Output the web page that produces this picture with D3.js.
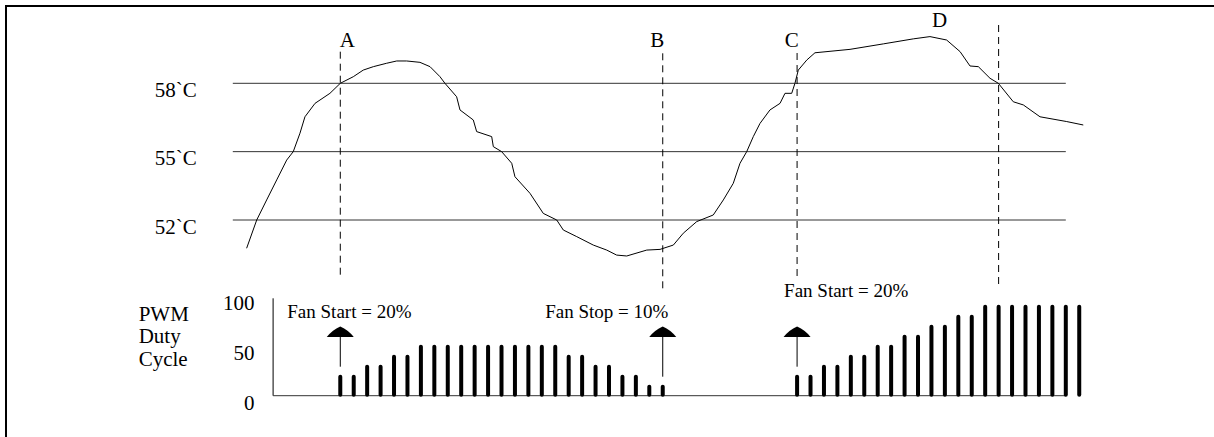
<!DOCTYPE html>
<html>
<head>
<meta charset="utf-8">
<script src="https://cdn.jsdelivr.net/npm/d3@7"></script>
<style>
  html, body { margin: 0; padding: 0; background: #fff; }
  svg { display: block; }
  text { font-family: "Liberation Serif", "Times New Roman", serif; fill: #000; }
</style>
</head>
<body>
<div id="chart"></div>
<script>
// ---------- data ----------
// temperature trace (time in PWM periods, temperature in degC)
var tempTime = [-6.97, -6.22, -5.48, -4.73, -3.99, -3.5, -3.0, -2.63, -1.88, -0.77, 0, 0.97, 1.71, 2.46, 3.45, 4.2, 4.94,
  5.93, 6.68, 7.42, 7.79, 8.66, 8.91, 9.9, 10.15, 11.27, 11.39, 12.01, 12.76, 13.0, 14.12, 15.11, 16.11, 16.6, 17.6,
  18.83, 19.83, 20.57, 21.32, 22.81, 23.8, 24.79, 25.53, 26.53, 27.76, 28.51, 29.25, 29.75, 30.25, 30.74, 31.24,
  31.98, 32.73, 33.1, 33.6, 33.84, 34.09, 34.72, 35.33, 37.94, 40.42, 42.65, 43.89, 45.13, 46.13, 46.87, 47.49,
  48.36, 48.98, 50.09, 50.84, 52.08, 54.07, 55.3];
var tempValue = [50.76, 52.0, 52.88, 53.76, 54.63, 55.0, 55.81, 56.53, 57.12, 57.56, 58.0, 58.29, 58.58, 58.73, 58.88, 58.98, 58.98,
  58.92, 58.73, 58.29, 58.0, 57.41, 56.83, 56.39, 55.88, 55.66, 55.22, 55.0, 54.49, 53.9, 53.17, 52.29, 52.0, 51.56, 51.27,
  50.9, 50.68, 50.46, 50.42, 50.68, 50.71, 50.9, 51.42, 51.93, 52.22, 52.88, 53.61, 54.49, 55.0, 55.66, 56.24,
  56.83, 57.12, 57.56, 57.56, 58.0, 58.58, 59.02, 59.34, 59.49, 59.73, 59.95, 60.05, 59.9, 59.39, 58.76, 58.73,
  58.22, 58.0, 57.19, 57.05, 56.53, 56.32, 56.17];

var tempLevels = [52, 55, 58];
var tempLabels = ["52`C", "55`C", "58`C"];

// PWM duty cycle bursts (one value per PWM period)
var dutyStart = [0, 34];
var dutyGroups = [
  [20, 20, 30, 30, 40, 40, 50, 50, 50, 50, 50, 50, 50, 50, 50, 50, 50, 40, 40, 30, 30, 20, 20, 10, 10],
  [20, 20, 30, 30, 40, 40, 50, 50, 60, 60, 70, 70, 80, 80, 90, 90, 90, 90, 90, 90, 90, 90]
];
var dutyTicks = [0, 50, 100];
var dutyAxisTitle = ["PWM", "Duty", "Cycle"];

// event markers
var markerTime = [0, 24, 34, 49];
var markerLetters = ["A", "B", "C", "D"];
var letterTime = [0, 24, 34, 44.6];

// fan events (arrows)
var fanTime = [0, 24, 34];
var fanLabels = ["Fan Start = 20%", "Fan Stop = 10%", "Fan Start = 20%"];

// ---------- layout ----------
var attrs = {
  width: 1214,
  height: 437,
  fontSize: 21,
  noteSize: 19
};

var svg = d3.select("#chart").append("svg")
  .attr("width", attrs.width)
  .attr("height", attrs.height);

var x = d3.scaleLinear().domain([-8, 54]).range([232.8, 1065.8]);
var yT = d3.scaleLinear().domain([52, 58]).range([220, 83.3]);
var yD = d3.scaleLinear().domain([0, 100]).range([395.7, 295.7]);

// frame (top and left edges)
svg.append("line").attr("x1", 5).attr("x2", attrs.width).attr("y1", 6).attr("y2", 6)
  .attr("stroke", "#000").attr("stroke-width", 2);
svg.append("line").attr("x1", 6).attr("x2", 6).attr("y1", 5).attr("y2", attrs.height)
  .attr("stroke", "#000").attr("stroke-width", 2);

// temperature thresholds
svg.selectAll(".level").data(tempLevels).enter().append("line")
  .attr("class", "level")
  .attr("x1", x(-8)).attr("x2", x(54))
  .attr("y1", d => yT(d)).attr("y2", d => yT(d))
  .attr("stroke", "#333").attr("stroke-width", 1);

svg.selectAll(".level-label").data(tempLevels).enter().append("text")
  .attr("class", "level-label")
  .attr("x", x(-8) - 36)
  .attr("y", d => yT(d) + 13.5)
  .attr("text-anchor", "end")
  .attr("font-size", attrs.fontSize)
  .text((d, i) => tempLabels[i]);

// dashed markers
var markerTop = [51.7, 53.3, 53, 25];
var markerBottom = [276.7, 288.3, 276.7, 286.7];
svg.selectAll(".marker").data(markerTime).enter().append("line")
  .attr("class", "marker")
  .attr("x1", d => x(d)).attr("x2", d => x(d))
  .attr("y1", (d, i) => markerTop[i]).attr("y2", (d, i) => markerBottom[i])
  .attr("stroke", "#000").attr("stroke-width", 1)
  .attr("stroke-dasharray", "7,5");

var letterAnchor = ["start", "end", "end", "middle"];
var letterDx = [-0.5, 1.5, 1.7, 0];
var letterY = [46.7, 46.7, 46.7, 26.7];
svg.selectAll(".letter").data(letterTime).enter().append("text")
  .attr("class", "letter")
  .attr("x", (d, i) => x(d) + letterDx[i])
  .attr("y", (d, i) => letterY[i])
  .attr("text-anchor", (d, i) => letterAnchor[i])
  .attr("font-size", attrs.fontSize)
  .text((d, i) => markerLetters[i]);

// temperature curve
var tempData = tempTime.map((t, i) => ({ t: t, v: tempValue[i] }));
svg.append("path")
  .datum(tempData)
  .attr("fill", "none")
  .attr("stroke", "#000")
  .attr("stroke-width", 1)
  .attr("stroke-linejoin", "round")
  .attr("d", d3.line().x(d => x(d.t)).y(d => yT(d.v)));

// duty cycle axis
svg.append("line")
  .attr("x1", x(-5)).attr("x2", x(-5))
  .attr("y1", yD(97.4)).attr("y2", yD(0))
  .attr("stroke", "#000").attr("stroke-width", 1);
svg.append("line")
  .attr("x1", x(-5)).attr("x2", x(54))
  .attr("y1", yD(0)).attr("y2", yD(0))
  .attr("stroke", "#333").attr("stroke-width", 1);

svg.selectAll(".duty-tick").data(dutyTicks).enter().append("text")
  .attr("class", "duty-tick")
  .attr("x", 254.5)
  .attr("y", d => yD(d) + 14)
  .attr("text-anchor", "end")
  .attr("font-size", attrs.fontSize)
  .text(d => d);

svg.selectAll(".duty-title").data(dutyAxisTitle).enter().append("text")
  .attr("class", "duty-title")
  .attr("x", 138.7)
  .attr("y", (d, i) => 320.7 + i * 22.5)
  .attr("font-size", attrs.fontSize)
  .text(d => d);

// duty bars
var bars = [];
dutyGroups.forEach(function(g, gi) {
  g.forEach(function(v, i) {
    bars.push({ t: dutyStart[gi] + i, v: v });
  });
});
svg.selectAll(".bar").data(bars).enter().append("line")
  .attr("class", "bar")
  .attr("x1", d => x(d.t)).attr("x2", d => x(d.t))
  .attr("y1", d => yD(0) - 1).attr("y2", d => yD(d.v) + 1)
  .attr("stroke", "#000").attr("stroke-width", 4)
  .attr("stroke-linecap", "round");

// fan arrows
var fanDuty = fanTime.map(t => bars.find(b => b.t === t).v);
var arrow = svg.selectAll(".fan").data(fanTime).enter().append("g").attr("class", "fan");
arrow.append("line")
  .attr("x1", d => x(d)).attr("x2", d => x(d))
  .attr("y1", 336.7).attr("y2", (d, i) => yD(fanDuty[i]) - 9)
  .attr("stroke", "#000").attr("stroke-width", 1);
arrow.append("path")
  .attr("d", d => `M${x(d)},326.5 Q${x(d) + 8},330 ${x(d) + 13.5},337 L${x(d) - 13.5},337 Q${x(d) - 8},330 ${x(d)},326.5 Z`)
  .attr("fill", "#000");

var fanDx = [-53, 5.6, -13];
var fanAnchor = ["start", "end", "start"];
var fanY = [317.7, 317.7, 297.3];
svg.selectAll(".fan-label").data(fanTime).enter().append("text")
  .attr("class", "fan-label")
  .attr("x", (d, i) => x(d) + fanDx[i])
  .attr("y", (d, i) => fanY[i])
  .attr("text-anchor", (d, i) => fanAnchor[i])
  .attr("font-size", attrs.noteSize)
  .text((d, i) => fanLabels[i]);
</script>
</body>
</html>
